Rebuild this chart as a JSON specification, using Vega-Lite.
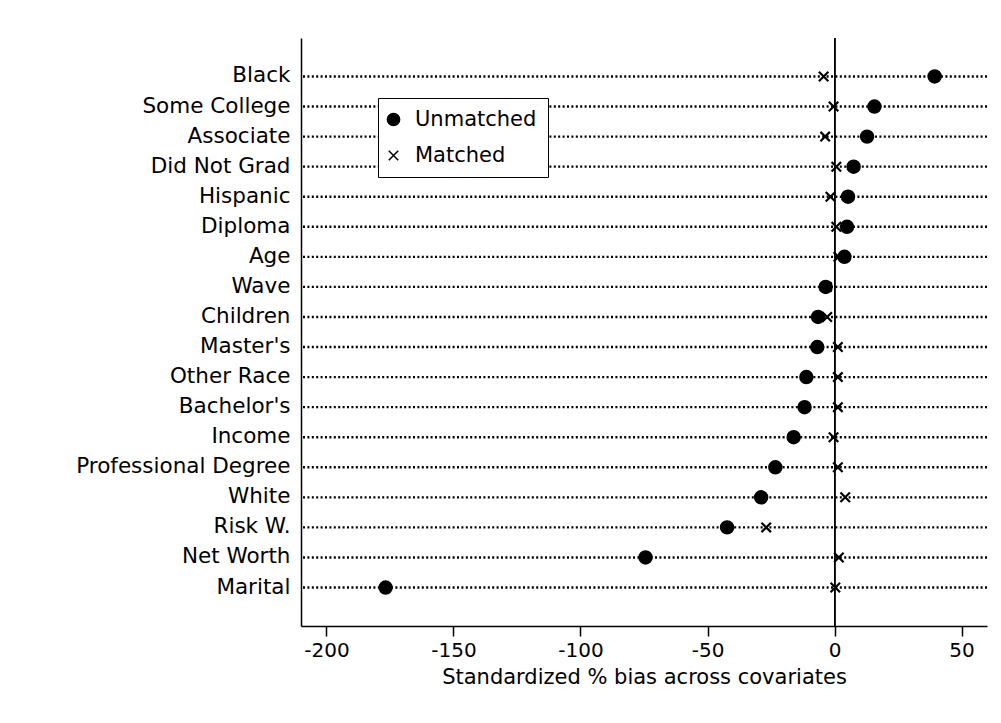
{
  "$schema": "https://vega.github.io/schema/vega-lite/v6.json",
  "autosize": {"type": "none"},
  "width": 686,
  "height": 588,
  "padding": {"left": 301, "top": 38, "right": 14, "bottom": 97},
  "background": "white",
  "config": {
    "font": "DejaVu Sans",
    "view": {"stroke": null},
    "axis": {"labelColor": "black", "titleColor": "black", "domainColor": "black", "tickColor": "black", "grid": false}
  },
  "data": {
    "values": [
      {"covariate": "Black", "sample": "Unmatched", "bias": 39.4},
      {"covariate": "Some College", "sample": "Unmatched", "bias": 15.7},
      {"covariate": "Associate", "sample": "Unmatched", "bias": 12.8},
      {"covariate": "Did Not Grad", "sample": "Unmatched", "bias": 7.5},
      {"covariate": "Hispanic", "sample": "Unmatched", "bias": 5.3},
      {"covariate": "Diploma", "sample": "Unmatched", "bias": 4.9},
      {"covariate": "Age", "sample": "Unmatched", "bias": 3.9},
      {"covariate": "Wave", "sample": "Unmatched", "bias": -3.5},
      {"covariate": "Children", "sample": "Unmatched", "bias": -6.5},
      {"covariate": "Master's", "sample": "Unmatched", "bias": -6.8},
      {"covariate": "Other Race", "sample": "Unmatched", "bias": -11.1},
      {"covariate": "Bachelor's", "sample": "Unmatched", "bias": -11.8},
      {"covariate": "Income", "sample": "Unmatched", "bias": -16.1},
      {"covariate": "Professional Degree", "sample": "Unmatched", "bias": -23.3},
      {"covariate": "White", "sample": "Unmatched", "bias": -28.9},
      {"covariate": "Risk W.", "sample": "Unmatched", "bias": -42.3},
      {"covariate": "Net Worth", "sample": "Unmatched", "bias": -74.4},
      {"covariate": "Marital", "sample": "Unmatched", "bias": -176.7},
      {"covariate": "Black", "sample": "Matched", "bias": -4.3},
      {"covariate": "Some College", "sample": "Matched", "bias": -0.4},
      {"covariate": "Associate", "sample": "Matched", "bias": -3.7},
      {"covariate": "Did Not Grad", "sample": "Matched", "bias": 0.7},
      {"covariate": "Hispanic", "sample": "Matched", "bias": -1.6},
      {"covariate": "Diploma", "sample": "Matched", "bias": 0.7},
      {"covariate": "Age", "sample": "Matched", "bias": 1.5},
      {"covariate": "Wave", "sample": "Matched", "bias": -3.0},
      {"covariate": "Children", "sample": "Matched", "bias": -2.9},
      {"covariate": "Master's", "sample": "Matched", "bias": 1.3},
      {"covariate": "Other Race", "sample": "Matched", "bias": 1.3},
      {"covariate": "Bachelor's", "sample": "Matched", "bias": 1.3},
      {"covariate": "Income", "sample": "Matched", "bias": -0.4},
      {"covariate": "Professional Degree", "sample": "Matched", "bias": 1.3},
      {"covariate": "White", "sample": "Matched", "bias": 4.2},
      {"covariate": "Risk W.", "sample": "Matched", "bias": -26.9},
      {"covariate": "Net Worth", "sample": "Matched", "bias": 1.7},
      {"covariate": "Marital", "sample": "Matched", "bias": 0.3}
    ]
  },
  "encoding": {
    "y": {
      "field": "covariate",
      "type": "nominal",
      "sort": null,
      "scale": {"type": "band", "paddingInner": 0, "paddingOuter": 0.78},
      "axis": {
        "title": null,
        "ticks": false,
        "labelFontSize": 21.5,
        "labelLimit": 400,
        "labelPadding": 11,
        "domainWidth": 1.5,
        "labelAlign": "right",
        "labelBaseline": "middle"
      }
    }
  },
  "layer": [
    {
      "transform": [{"filter": "datum.sample == 'Unmatched'"}],
      "mark": {"type": "rule", "color": "black", "strokeWidth": 2.4, "strokeDash": [2, 2.4]}
    },
    {
      "mark": {"type": "rule", "color": "black", "strokeWidth": 1},
      "encoding": {"x": {"datum": 0, "type": "quantitative"}, "y": {"value": 0}, "y2": {"value": 588}}
    },
    {
      "mark": {"type": "point", "filled": true, "color": "black", "stroke": "black", "strokeWidth": 2.2, "opacity": 1},
      "encoding": {
        "x": {
          "field": "bias",
          "type": "quantitative",
          "scale": {"domain": [-210, 60], "nice": false, "zero": false},
          "axis": {
            "values": [-200, -150, -100, -50, 0, 50],
            "labelExpr": "'' + datum.value",
            "title": "Standardized % bias across covariates",
            "titleFontSize": 21,
            "titleFontWeight": "normal",
            "titlePadding": 6,
            "labelFontSize": 20,
            "labelPadding": 4,
            "tickSize": 10,
            "tickWidth": 1.5,
            "domainWidth": 1.5
          }
        },
        "shape": {
          "field": "sample",
          "type": "nominal",
          "scale": {"domain": ["Unmatched", "Matched"], "range": ["circle", "M-1,-1L1,1M-1,1L1,-1"]},
          "legend": {
            "title": null,
            "orient": "none",
            "legendX": 77,
            "legendY": 60,
            "strokeColor": "black",
            "fillColor": "white",
            "padding": 11,
            "labelFontSize": 21,
            "labelColor": "black",
            "labelOffset": 11,
            "symbolOffset": -6,
            "rowPadding": 14,
            "labelExpr": "datum.label + '\u00a0\u00a0'",
            "encode": {
              "legend": {"update": {"strokeWidth": {"value": 1.5}}},
              "symbols": {"update": {"stroke": {"value": "black"}, "strokeWidth": {"value": 2}, "fill": {"value": "black"}}}
            }
          }
        },
        "size": {
          "field": "sample",
          "type": "nominal",
          "scale": {"domain": ["Unmatched", "Matched"], "range": [150, 90]},
          "legend": {
            "title": null,
            "orient": "none",
            "legendX": 77,
            "legendY": 60,
            "strokeColor": "black",
            "fillColor": "white",
            "padding": 11,
            "labelFontSize": 21,
            "labelColor": "black",
            "labelOffset": 11,
            "symbolOffset": -6,
            "rowPadding": 14,
            "labelExpr": "datum.label + '\u00a0\u00a0'",
            "encode": {
              "legend": {"update": {"strokeWidth": {"value": 1.5}}},
              "symbols": {"update": {"stroke": {"value": "black"}, "strokeWidth": {"value": 2}, "fill": {"value": "black"}}}
            }
          }
        },
        "order": {"field": "sample", "sort": "ascending"}
      }
    }
  ]
}
